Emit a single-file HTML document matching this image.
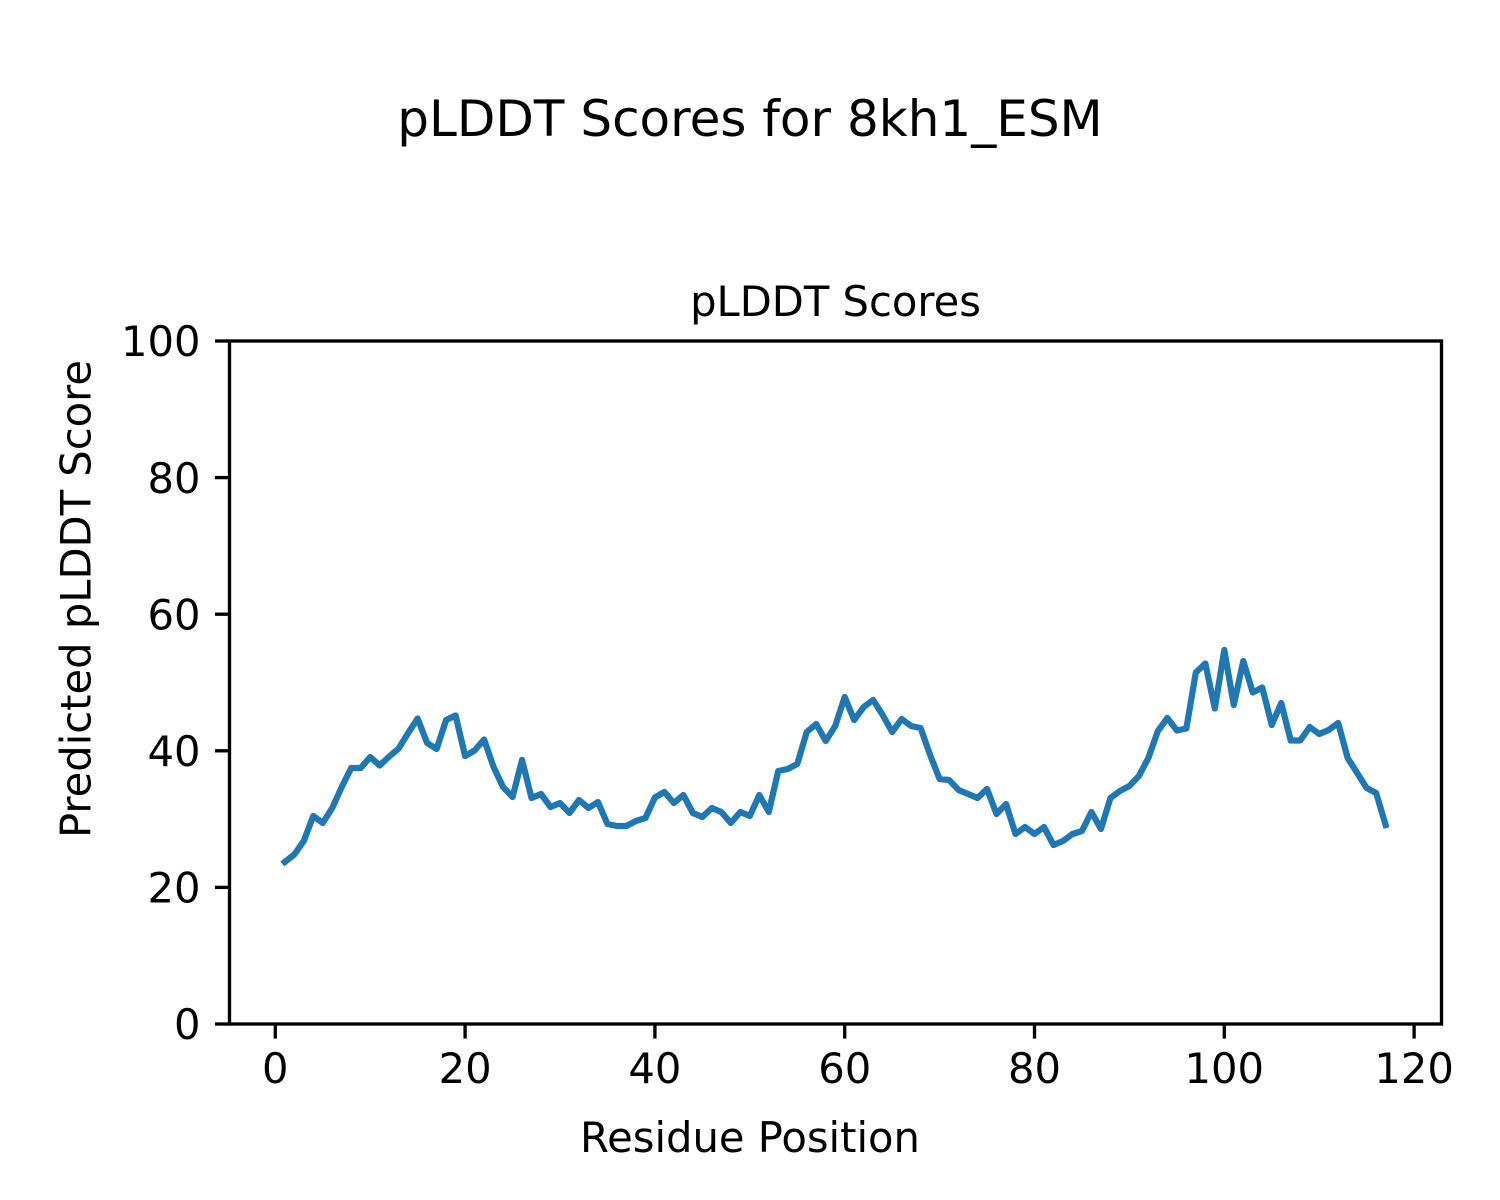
<!DOCTYPE html>
<html>
<head>
<meta charset="utf-8">
<style>
  html, body { margin: 0; padding: 0; background: #ffffff; }
  svg { display: block; }
  text { font-family: "DejaVu Sans", "Liberation Sans", sans-serif; fill: #000; }
</style>
</head>
<body>
<svg width="1500" height="1200" viewBox="0 0 1500 1200" xmlns="http://www.w3.org/2000/svg">
  <rect x="0" y="0" width="1500" height="1200" fill="#ffffff"/>

  <!-- Figure title -->
  <text x="750" y="136" font-size="50" text-anchor="middle">pLDDT Scores for 8kh1_ESM</text>

  <!-- Axes title -->
  <text x="835.5" y="316" font-size="41.67" text-anchor="middle">pLDDT Scores</text>

  <!-- Data line -->
  <polyline fill="none" stroke="#1f77b4" stroke-width="6.25" stroke-linejoin="round" stroke-linecap="square"
    points="284.79,862 294.28,854.5 303.77,841 313.26,816 322.75,823 332.24,808 341.73,787 351.22,768 360.71,768 370.2,757 379.69,765.5 389.18,756.5 398.67,748.5 408.16,733 417.65,718.5 427.14,743 436.63,749 446.12,720 455.61,715.5 465.1,756 474.59,750.5 484.08,739.5 493.57,767 503.06,787 512.55,797 522.04,760 531.53,798 541.02,794 550.51,807 560,803 569.49,813 578.98,800 588.47,808 597.96,802 607.45,824 616.94,826 626.43,826 635.92,821 645.41,818 654.9,797.5 664.39,792 673.88,803 683.37,795 692.86,813 702.35,817 711.84,808 721.33,812 730.82,823 740.31,812 749.8,816 759.29,795 768.78,812 778.27,771 787.76,769 797.25,764 806.74,732 816.23,724 825.72,741 835.21,726 844.7,697 854.19,720 863.68,707 873.17,700 882.66,715 892.15,732 901.64,719 911.13,726 920.62,728 930.11,755 939.6,779 949.09,780 958.58,790 968.07,794 977.56,798 987.05,789 996.54,814 1006.03,804 1015.52,834 1025.01,827 1034.5,834 1043.99,827 1053.48,845 1062.97,841 1072.46,834 1081.95,831 1091.44,812 1100.93,829 1110.42,798 1119.91,791 1129.4,786 1138.89,776 1148.38,758 1157.87,731 1167.36,718 1176.85,730.5 1186.34,728.5 1195.83,672.5 1205.32,663.5 1214.81,708.5 1224.3,650 1233.79,705 1243.28,661 1252.77,692.5 1262.26,687.5 1271.75,725 1281.24,703 1290.73,740.5 1300.22,740.5 1309.71,727 1319.2,734 1328.69,730 1338.18,723 1347.67,758 1357.16,773 1366.65,788 1376.14,793 1385.63,825"/>

  <!-- Spines -->
  <rect x="229.5" y="341" width="1212" height="683" fill="none" stroke="#000" stroke-width="3.33" stroke-linejoin="miter"/>

  <!-- Y ticks -->
  <g stroke="#000" stroke-width="3.33">
    <line x1="215" y1="1024" x2="229.5" y2="1024"/>
    <line x1="215" y1="887.4" x2="229.5" y2="887.4"/>
    <line x1="215" y1="750.8" x2="229.5" y2="750.8"/>
    <line x1="215" y1="614.2" x2="229.5" y2="614.2"/>
    <line x1="215" y1="477.6" x2="229.5" y2="477.6"/>
    <line x1="215" y1="341" x2="229.5" y2="341"/>
  </g>
  <g font-size="41.67" text-anchor="end">
    <text x="200.5" y="1039.2">0</text>
    <text x="200.5" y="902.6">20</text>
    <text x="200.5" y="766">40</text>
    <text x="200.5" y="629.4">60</text>
    <text x="200.5" y="492.8">80</text>
    <text x="200.5" y="356.2">100</text>
  </g>

  <!-- X ticks -->
  <g stroke="#000" stroke-width="3.33">
    <line x1="275.3" y1="1024" x2="275.3" y2="1038.6"/>
    <line x1="465.1" y1="1024" x2="465.1" y2="1038.6"/>
    <line x1="654.9" y1="1024" x2="654.9" y2="1038.6"/>
    <line x1="844.7" y1="1024" x2="844.7" y2="1038.6"/>
    <line x1="1034.5" y1="1024" x2="1034.5" y2="1038.6"/>
    <line x1="1224.3" y1="1024" x2="1224.3" y2="1038.6"/>
    <line x1="1414.1" y1="1024" x2="1414.1" y2="1038.6"/>
  </g>
  <g font-size="41.67" text-anchor="middle">
    <text x="275.3" y="1083">0</text>
    <text x="465.1" y="1083">20</text>
    <text x="654.9" y="1083">40</text>
    <text x="844.7" y="1083">60</text>
    <text x="1034.5" y="1083">80</text>
    <text x="1224.3" y="1083">100</text>
    <text x="1414.1" y="1083">120</text>
  </g>

  <!-- Axis labels -->
  <text x="750" y="1152" font-size="41.67" text-anchor="middle">Residue Position</text>
  <text transform="translate(90.5,599) rotate(-90)" font-size="41.67" text-anchor="middle">Predicted pLDDT Score</text>
</svg>
</body>
</html>
